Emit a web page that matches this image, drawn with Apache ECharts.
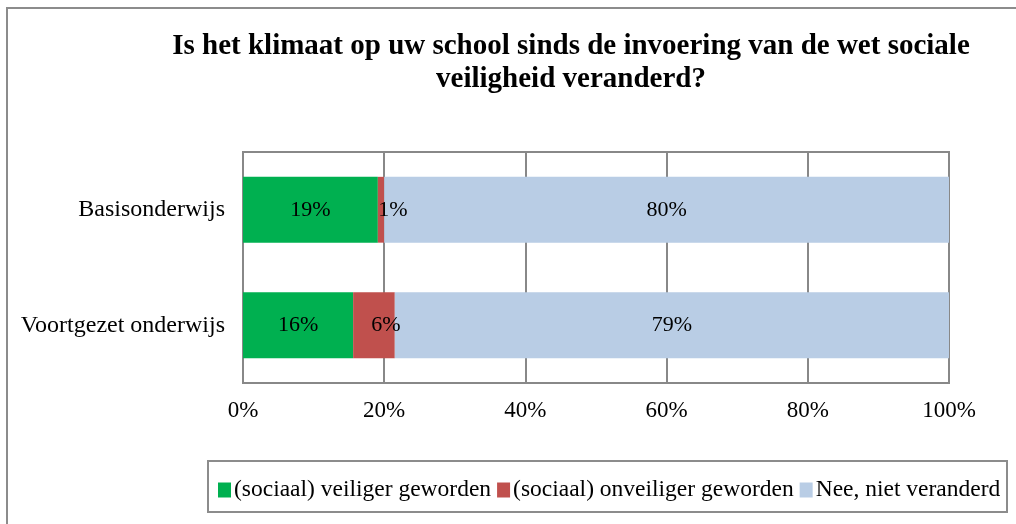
<!doctype html>
<html>
<head>
<meta charset="utf-8">
<script src="https://cdn.jsdelivr.net/npm/echarts@6/dist/echarts.min.js"></script>
<style>
	html, body { margin: 0; padding: 0; background: #fff; }
	#chart { width: 1016px; height: 524px; }
</style>
</head>
<body>
<div id="chart"></div>
<script>
var categories = ['Basisonderwijs', 'Voortgezet onderwijs']
var seriesNames = ['(sociaal) veiliger geworden', '(sociaal) onveiliger geworden', 'Nee, niet veranderd']
var veiliger = [19.1, 15.6]
var onveiliger = [0.9, 5.9]
var nietVeranderd = [80.0, 78.5]
var colors = ['#00B050', '#C0504D', '#B9CDE5']

var font = '"Liberation Serif", "DejaVu Serif", serif'

var chart = echarts.init(document.getElementById('chart'))

function makeSeries(name, data, color, offset) {
	return {
		name: name,
		type: 'bar',
		stack: 'total',
		data: data,
		barWidth: '57%',
		itemStyle: { color: color },
		label: {
			show: true,
			position: 'inside',
			offset: offset,
			color: '#000',
			fontFamily: font,
			fontSize: 22,
			formatter: function(p) {
				return Math.round(p.value) + '%'
			}
		}
	}
}

var option = {
	animation: false,
	backgroundColor: '#fff',
	title: {
		text: 'Is het klimaat op uw school sinds de invoering van de wet sociale\nveiligheid veranderd?',
		left: 566,
		top: 25,
		textAlign: 'center',
		textStyle: {
			fontFamily: font,
			fontWeight: 'bold',
			fontSize: 29,
			lineHeight: 33,
			color: '#000'
		}
	},
	graphic: [
		{
			type: 'rect',
			shape: { x: 7, y: 8, width: 1020, height: 530 },
			style: { fill: 'none', stroke: '#8c8c8c', lineWidth: 2 },
			silent: true
		},
		{
			type: 'rect',
			shape: { x: 208, y: 461, width: 799, height: 51 },
			style: { fill: 'none', stroke: '#8c8c8c', lineWidth: 2 },
			silent: true
		}
	],
	legend: {
		data: seriesNames,
		left: 213,
		top: 473,
		icon: 'rect',
		itemWidth: 13,
		itemHeight: 15,
		itemGap: 6,
		textStyle: {
			fontFamily: font,
			fontSize: 23.5,
			color: '#000',
			padding: [0, 0, 0, -2]
		}
	},
	grid: {
		left: 243,
		right: 67,
		top: 152,
		bottom: 141,
		show: true,
		borderColor: '#888',
		borderWidth: 2
	},
	xAxis: {
		type: 'value',
		min: 0,
		max: 100,
		interval: 20,
		axisLine: { show: true, lineStyle: { color: '#888', width: 2 } },
		axisTick: { show: false },
		splitLine: { show: true, lineStyle: { color: '#888', width: 2 } },
		axisLabel: {
			margin: 16,
			color: '#000',
			fontFamily: font,
			fontSize: 23,
			formatter: '{value}%'
		}
	},
	yAxis: {
		type: 'category',
		data: categories,
		inverse: true,
		axisLine: { show: true, lineStyle: { color: '#888', width: 2 } },
		axisTick: { show: false },
		axisLabel: {
			margin: 18,
			color: '#000',
			fontFamily: font,
			fontSize: 24
		}
	},
	series: [
		makeSeries(seriesNames[0], veiliger, colors[0], [0, 0]),
		makeSeries(seriesNames[1], onveiliger, colors[1], [12, 0]),
		makeSeries(seriesNames[2], nietVeranderd, colors[2], [0, 0])
	]
}

chart.setOption(option)
</script>
</body>
</html>
